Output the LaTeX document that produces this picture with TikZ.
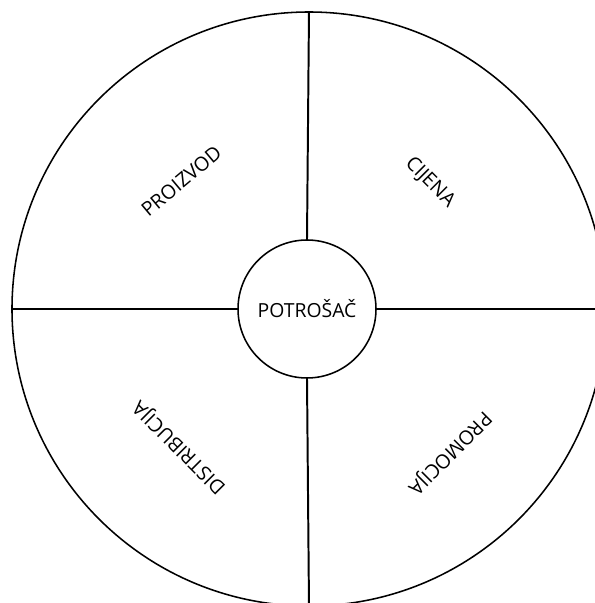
\documentclass[tikz,border=0pt]{standalone}
\usepackage{fontspec}
\setmainfont{Open Sans}

\tikzset{
    krug/.style={circle, draw, line width=1.1pt, inner sep=0pt},
    dio/.style={font=\fontsize{14}{16}\selectfont},
    crta/.style={line width=1.4pt}
}

\begin{document}
\begin{tikzpicture}
    % Frame of the picture (outer circle runs past it)
    \useasboundingbox (-7.725,-7.35) rectangle (7.15,7.725);
    \clip (-7.725,-7.35) rectangle (7.15,7.725);

    % --- Outer and inner circle ---
    \node[krug, minimum size=14.85cm] (trziste) at (0,0) {};
    \node[krug, minimum size=3.45cm, fill=white,
          font=\fontsize{13.8}{16}\selectfont] (potrosac) at (-0.05,0) {POTROŠAČ};

    % --- Four dividing lines ---
    \draw[crta] (potrosac.north) -- (trziste.north);
    \draw[crta] (potrosac.south) -- (trziste.south);
    \draw[crta] (potrosac.west) -- (trziste.west);
    \draw[crta] (potrosac.east) -- (trziste.east);

    % --- Quadrant labels ---
    \node[dio, rotate=40] (proizvod) at (-3.19,3.2) {PROIZVOD};
    \node[dio, rotate=-45] (cijena) at (3.025,3.16) {CIJENA};
    \node[dio, rotate=135] (distribucija) at (-3.23,-3.45) {DISTRIBUCIJA};
    \node[dio, rotate=225] (promocija) at (3.51,-3.59) {PROMOCIJA};

\end{tikzpicture}
\end{document}
